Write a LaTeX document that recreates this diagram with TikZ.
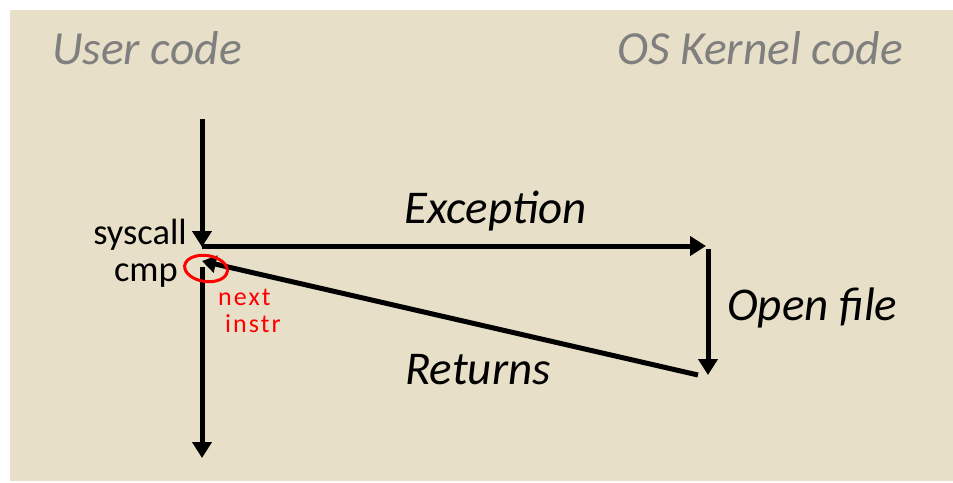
\documentclass[tikz,border=0pt]{standalone}
\usepackage{fontspec}
\setmainfont{Carlito}
\usetikzlibrary{arrows.meta}
\definecolor{bgc}{HTML}{E8DFC8}
\definecolor{titlegray}{HTML}{7F7F7F}
\definecolor{inkred}{HTML}{FF0000}
\tikzset{
  flow/.style={line width=5pt, -{Triangle[length=16pt,width=19pt]}},
  backflow/.style={line width=5pt, -{Triangle[length=14pt,width=17pt]}},
  title/.style={font=\fontsize{47.5}{52}\selectfont\itshape, text=titlegray, inner sep=0pt, anchor=base west},
  lbl/.style={font=\fontsize{47}{52}\selectfont\itshape, inner sep=0pt, anchor=base west},
  code/.style={font=\fontsize{36.5}{40}\selectfont, inner sep=0pt, anchor=base east},
  note/.style={font=\fontsize{26}{28}\selectfont\addfontfeature{LetterSpace=8}, text=inkred, inner sep=0pt, anchor=base west}
}
\begin{document}
\begin{tikzpicture}[x=1pt,y=-1pt]
\useasboundingbox (0,0) rectangle (953,482);
\fill[white] (0,0) rectangle (953,482);
\fill[bgc] (10,10) rectangle (953,481);
\node[title] (user) at (52,64) {User code};
\node[title] (kern) at (617,64) {OS Kernel code};
\coordinate (top) at (202,119);
\coordinate (sys) at (202,247);
\coordinate (excEnd) at (706,246);
\coordinate (excStart) at (202,246);
\coordinate (openTop) at (708,249);
\coordinate (openEnd) at (708,375);
\coordinate (retStart) at (698,375);
\coordinate (retEnd) at (202,261);
\coordinate (cmpTop) at (202,267);
\coordinate (bottom) at (202,458);
\draw[flow] (top) -- (sys);
\draw[flow] (excStart) -- (excEnd);
\draw[flow] (openTop) -- (openEnd);
\draw[backflow] (retStart) -- (retEnd);
\draw[flow] (cmpTop) -- (bottom);
\node[code] (syscall) at (187,244) {syscall};
\node[code] (cmp) at (178,281) {cmp};
\node[lbl] (exc) at (404,223) {Exception};
\node[lbl] (open) at (727,320) {Open file};
\node[lbl] (ret) at (405,384) {Returns};
\draw[inkred, line width=3pt, rotate around={-8:(206,268.5)}] (206,268.5) ellipse [x radius=21.5, y radius=13];
\node[note] (n1) at (218,305) {next};
\node[note] (n2) at (225,332) {instr};
\end{tikzpicture}
\end{document}
